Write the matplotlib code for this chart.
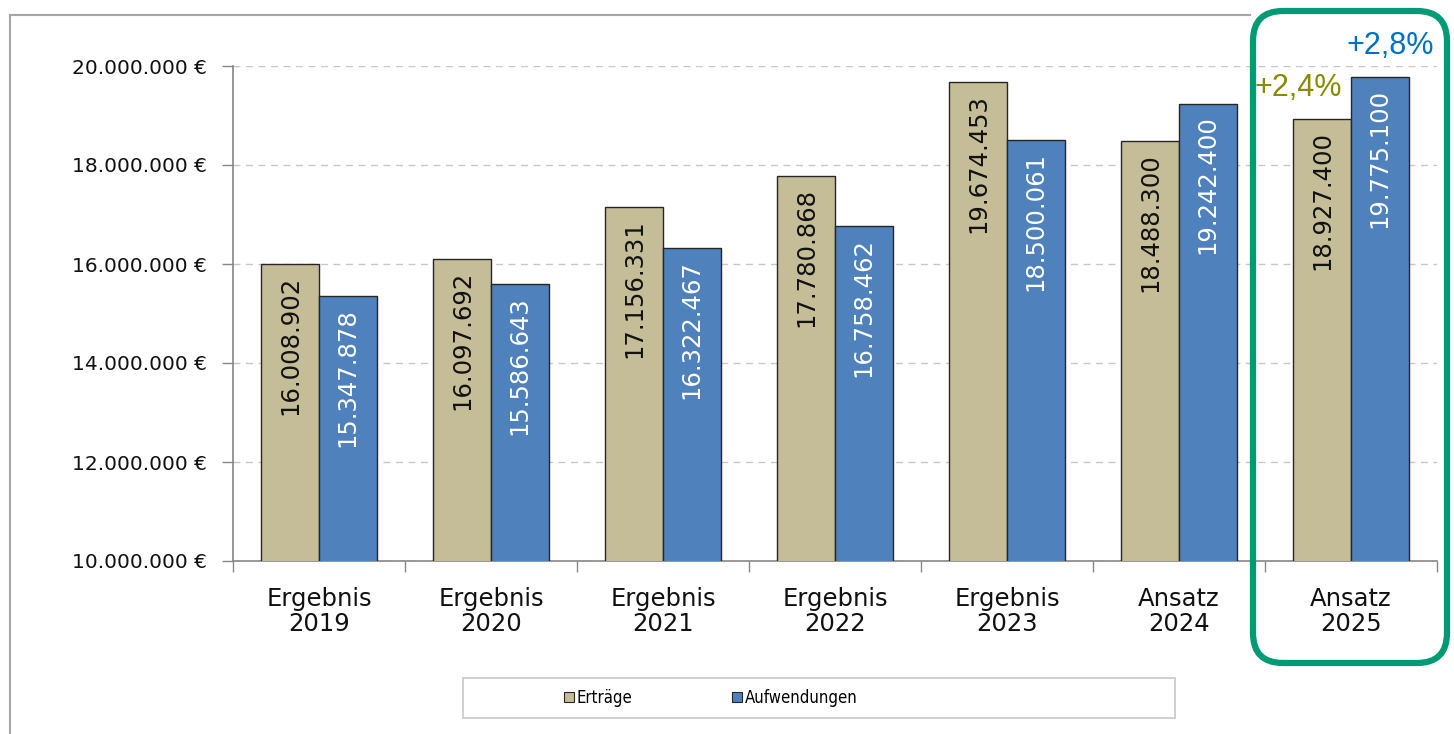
import matplotlib
matplotlib.use("Agg")
import matplotlib.pyplot as plt
import matplotlib.patches as mpatches
from matplotlib.lines import Line2D
from matplotlib.ticker import FixedLocator, FuncFormatter

# ── Daten ─────────────────────────────
kategorien = ["Ergebnis\n2019", "Ergebnis\n2020", "Ergebnis\n2021", "Ergebnis\n2022",
              "Ergebnis\n2023", "Ansatz\n2024", "Ansatz\n2025"]
ertraege = [16008902, 16097692, 17156331, 17780868, 19674453, 18488300, 18927400]
aufwendungen = [15347878, 15586643, 16322467, 16758462, 18500061, 19242400, 19775100]
y_ticks = [10000000, 12000000, 14000000, 16000000, 18000000, 20000000]
aenderung_ertraege = "+2,4%"
aenderung_aufwendungen = "+2,8%"

TAN = "#C4BD97"
BLAU = "#4F81BD"
KANTE = "#262626"
GRAU = "#868686"

def de(v):
    return f"{v:,}".replace(",", ".")

fig = plt.figure(figsize=(14.54, 7.34), dpi=100)
ax = fig.add_axes([233 / 1454, 1 - 561 / 734, (1437 - 233) / 1454, (561 - 66) / 734])

n = len(kategorien)
w = 0.335
mitte = [i + 0.5 for i in range(n)]
x_e = [m - w / 2 for m in mitte]
x_a = [m + w / 2 for m in mitte]

ax.bar(x_e, ertraege, width=w, color=TAN, edgecolor=KANTE, linewidth=1.0, zorder=3)
ax.bar(x_a, aufwendungen, width=w, color=BLAU, edgecolor=KANTE, linewidth=1.0, zorder=3)

# Werte in den Balken
for x, v in zip(x_e, ertraege):
    ax.annotate(de(v), xy=(x, v), xytext=(0, -12), textcoords="offset pixels",
                rotation=90, ha="center", va="top", fontsize=17.5, color="#111111", zorder=4)
for x, v in zip(x_a, aufwendungen):
    ax.annotate(de(v), xy=(x, v), xytext=(0, -12), textcoords="offset pixels",
                rotation=90, ha="center", va="top", fontsize=17.5, color="white", zorder=4)

# Veränderung 2025
ax.annotate(aenderung_ertraege, xy=(x_e[-1], ertraege[-1]), xytext=(-24, 16),
            textcoords="offset pixels", ha="center", va="bottom", fontsize=22,
            family="Liberation Sans", color="#8A8A00", annotation_clip=False)
ax.annotate(aenderung_aufwendungen, xy=(x_a[-1], aufwendungen[-1]), xytext=(10, 16),
            textcoords="offset pixels", ha="center", va="bottom", fontsize=22,
            family="Liberation Sans", color="#0070C0", annotation_clip=False)

# Achsen
ax.set_xlim(0, n)
ax.set_ylim(10000000, 20000000)
ax.yaxis.set_major_locator(FixedLocator(y_ticks))
ax.yaxis.set_major_formatter(FuncFormatter(lambda v, p: de(int(v)) + " €"))
ax.tick_params(axis="y", length=8, width=1, color=GRAU, pad=11, labelsize=14.5, labelcolor="#111111")

ax.set_xticks(range(n + 1))
ax.set_xticklabels([])
ax.set_xticks(mitte, minor=True)
ax.set_xticklabels(kategorien, minor=True, fontsize=17.5, linespacing=1.05, color="#111111")
ax.tick_params(axis="x", which="major", length=8, width=1, color=GRAU)
ax.tick_params(axis="x", which="minor", length=0, pad=19)

for s in ["top", "right"]:
    ax.spines[s].set_visible(False)
for s in ["left", "bottom"]:
    ax.spines[s].set_color(GRAU)
    ax.spines[s].set_linewidth(1.2)

ax.yaxis.grid(True, color="#C8C8C8", linestyle=(0, (5, 4)), linewidth=1, zorder=0)
ax.set_axisbelow(True)

# Legende
fig.add_artist(mpatches.Rectangle((463 / 1454, 1 - 718 / 734), (1175 - 463) / 1454, 40 / 734,
                                  transform=fig.transFigure, facecolor="white",
                                  edgecolor="#C8C8C8", linewidth=1.2))
handles = [mpatches.Patch(facecolor=TAN, edgecolor=KANTE, linewidth=0.8, label="Erträge"),
           mpatches.Patch(facecolor=BLAU, edgecolor=KANTE, linewidth=0.8, label="Aufwendungen")]
fig.legend(handles=handles, loc="center", bbox_to_anchor=(711 / 1454, 1 - 698 / 734),
           ncol=2, frameon=False, handlelength=0.6, handleheight=0.6,
           handletextpad=0.15, columnspacing=6.0,
           prop={"family": "DejaVu Sans", "stretch": "condensed", "size": 12})

# Rahmen
fig.add_artist(Line2D([10 / 1454, 10 / 1454], [0, 1 - 15 / 734], transform=fig.transFigure,
                      color="#A6A6A6", linewidth=1.5))
fig.add_artist(Line2D([10 / 1454, 1250 / 1454], [1 - 15 / 734, 1 - 15 / 734],
                      transform=fig.transFigure, color="#A6A6A6", linewidth=1.5))

# Markierung 2025
fig.add_artist(mpatches.FancyBboxPatch((12.53, 0.71), 1.94, 6.52,
                                       boxstyle="round,pad=0,rounding_size=0.3",
                                       transform=fig.dpi_scale_trans, facecolor="none",
                                       edgecolor="#009A74", linewidth=4.5))

fig.savefig("out.png", dpi=100)
